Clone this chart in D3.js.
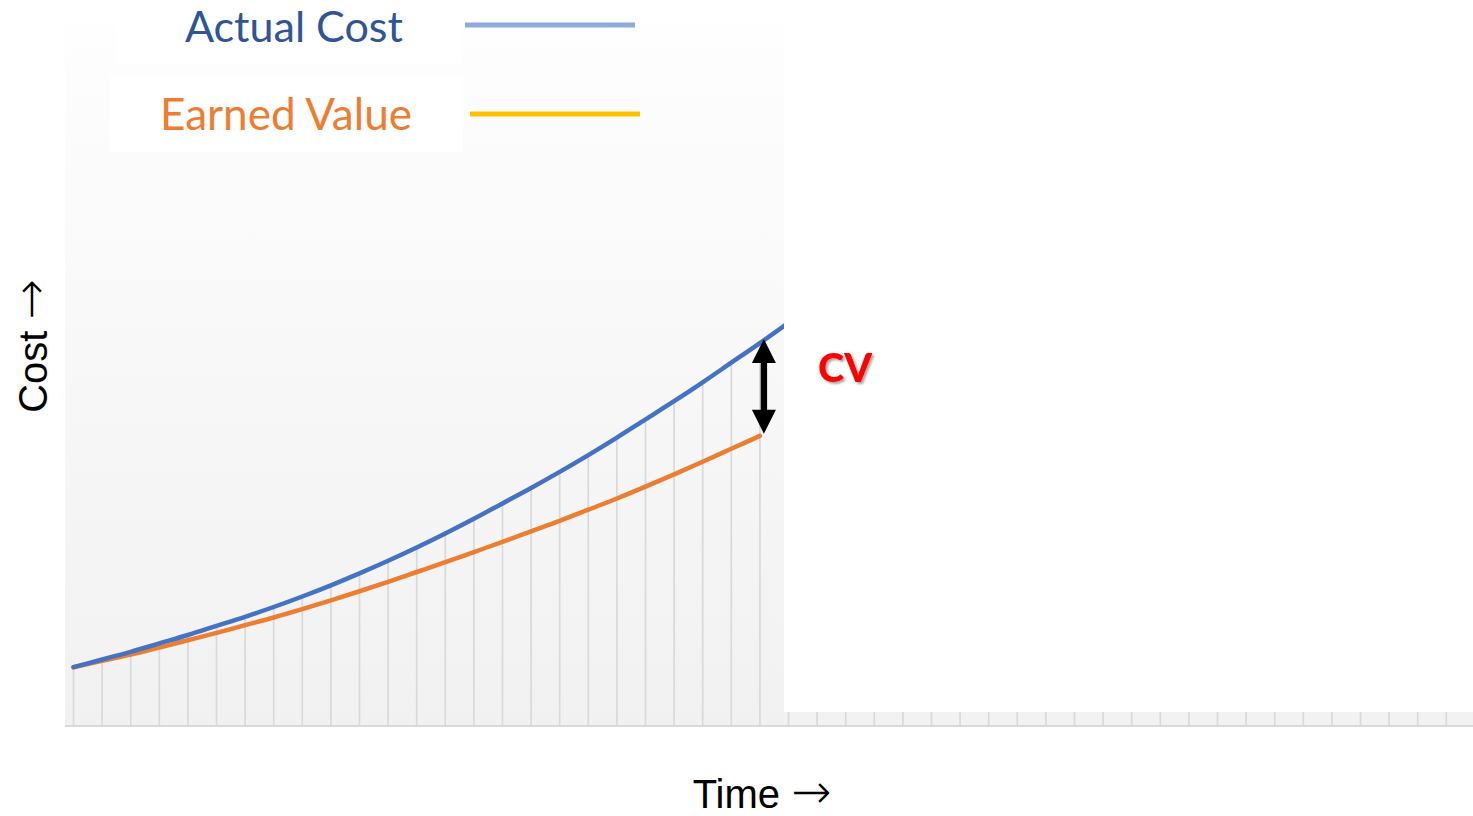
<!DOCTYPE html>
<html>
<head>
<meta charset="utf-8">
<script src="https://cdn.jsdelivr.net/npm/d3@7"></script>
<style>
  html, body { margin: 0; padding: 0; background: #ffffff; }
  svg { display: block; }
</style>
</head>
<body>
<div id="chart"></div>
<script>
// ---------- data ----------
const periods = d3.range(0, 49);               // time periods (grid positions)
const actualCost = [8.4, 9.5, 10.6, 11.8, 13.0, 14.3, 15.6, 17.0, 18.5, 20.1,
                    21.8, 23.6, 25.5, 27.5, 29.6, 31.8, 34.0, 36.3, 38.7, 41.2,
                    43.8, 46.4, 49.1, 51.9, 54.7, 57.6];
const earnedValue = [8.4, 9.3, 10.2, 11.2, 12.25, 13.3, 14.4, 15.5, 16.7, 17.95,
                     19.25, 20.6, 22.0, 23.4, 24.85, 26.3, 27.8, 29.3, 30.9, 32.5,
                     34.2, 35.95, 37.75, 39.6, 41.45];
const seriesNames = ["Actual Cost", "Earned Value"];
const statusPeriod = 24;          // period at which the variance is measured
const panelEndPeriod = 24.84;     // time extent of the shaded panel
const stripValue = 2;             // height of the future-period strip
const xTitle = ["Time ", "\u2192"];
const yTitle = ["Cost ", "\u2192"];
const cvLabel = "CV";

// ---------- layout ----------
const W = 1473, H = 816;
const svg = d3.select("#chart").append("svg").attr("width", W).attr("height", H);

const x = d3.scaleLinear().domain([0, 48]).range([73.5, 73.5 + 48 * 28.6]);
const y = d3.scaleLinear().domain([0, 100]).range([726, 26]);

const defs = svg.append("defs");
const grad = defs.append("linearGradient").attr("id", "bg").attr("x1", 0).attr("y1", 0).attr("x2", 0).attr("y2", 1);
grad.append("stop").attr("offset", "0%").attr("stop-color", "#fefefe");
grad.append("stop").attr("offset", "100%").attr("stop-color", "#f1f1f1");

const panelLeft = 65, panelTop = 23;
const panelRight = x(panelEndPeriod);

defs.append("clipPath").attr("id", "panelClip")
  .append("rect").attr("x", panelLeft).attr("y", 0).attr("width", panelRight - panelLeft).attr("height", y(0));

const shadow = defs.append("filter").attr("id", "shadow").attr("x", "-20%").attr("y", "-20%").attr("width", "150%").attr("height", "150%");
shadow.append("feDropShadow").attr("dx", 2).attr("dy", 2).attr("stdDeviation", 1.2)
  .attr("flood-color", "#000").attr("flood-opacity", 0.35);

// shaded panel
svg.append("rect").attr("x", panelLeft).attr("y", panelTop)
  .attr("width", panelRight - panelLeft).attr("height", y(0) - panelTop)
  .attr("fill", "url(#bg)");

// future strip
svg.append("rect").attr("x", panelRight).attr("y", y(stripValue))
  .attr("width", W - panelRight).attr("height", y(0) - y(stripValue))
  .attr("fill", "#f2f2f2");

// drop lines
const gGrid = svg.append("g").attr("stroke", "#d9d9d9").attr("stroke-width", 1.7);
periods.forEach(p => {
  const top = p < actualCost.length && x(p) <= panelRight ? y(actualCost[p]) : y(stripValue);
  gGrid.append("line").attr("x1", x(p)).attr("x2", x(p)).attr("y1", top).attr("y2", y(0));
});

// baseline
svg.append("line").attr("x1", panelLeft).attr("x2", W).attr("y1", y(0)).attr("y2", y(0))
  .attr("stroke", "#d9d9d9").attr("stroke-width", 2);

// lines
const line = d3.line().x((d, i) => x(i)).y(d => y(d)).curve(d3.curveMonotoneX);
svg.append("path").datum(earnedValue).attr("d", line)
  .attr("fill", "none").attr("stroke", "#ed7d31").attr("stroke-width", 4.5).attr("stroke-linecap", "round");
svg.append("path").datum(actualCost).attr("d", line).attr("clip-path", "url(#panelClip)")
  .attr("fill", "none").attr("stroke", "#4472c4").attr("stroke-width", 4.5).attr("stroke-linecap", "round");

// CV double arrow
const ax = x(statusPeriod) + 4;
const yTop = y(actualCost[statusPeriod]) - 4;
const yBot = y(earnedValue[statusPeriod]) - 2;
const headW = 12, headL = 24, shaftW = 3.2;
const arrowPts = [
  [ax, yTop], [ax + headW, yTop + headL], [ax + shaftW, yTop + headL],
  [ax + shaftW, yBot - headL], [ax + headW, yBot - headL], [ax, yBot],
  [ax - headW, yBot - headL], [ax - shaftW, yBot - headL],
  [ax - shaftW, yTop + headL], [ax - headW, yTop + headL]
];
svg.append("path").attr("d", d3.line()(arrowPts) + "Z").attr("fill", "#000");

// CV label
const cv = svg.append("text").text(cvLabel)
  .attr("x", 845).attr("y", 382)
  .attr("text-anchor", "middle")
  .attr("font-family", "Lato, 'Open Sans', sans-serif").attr("font-weight", 900)
  .attr("font-size", 46).attr("fill", "#ff0000").attr("filter", "url(#shadow)");

// legend boxes
svg.append("rect").attr("x", 116).attr("y", panelTop).attr("width", 346).attr("height", 40).attr("fill", "#ffffff");
svg.append("rect").attr("x", 110).attr("y", 75).attr("width", 353).attr("height", 77).attr("fill", "#ffffff");

const legendFont = "Lato, 'Open Sans', sans-serif";
const t1 = svg.append("text").text(seriesNames[0]).attr("x", 185).attr("y", 42)
  .attr("font-family", legendFont).attr("font-size", 44).attr("fill", "#2f5597");
const t2 = svg.append("text").text(seriesNames[1]).attr("x", 160).attr("y", 130)
  .attr("font-family", legendFont).attr("font-size", 44).attr("fill", "#ed7d31");
// fit legend fonts to the reference text widths
[[t1, 218], [t2, 252]].forEach(([t, w]) => {
  const len = t.node().getComputedTextLength();
  t.attr("font-size", 44 * w / len);
});
{
  const len = cv.node().getComputedTextLength();
  cv.attr("font-size", 46 * 54 / len);
}

svg.append("line").attr("x1", 465).attr("x2", 635).attr("y1", 25).attr("y2", 25)
  .attr("stroke", "#8faadc").attr("stroke-width", 5);
svg.append("line").attr("x1", 470).attr("x2", 640).attr("y1", 114).attr("y2", 114)
  .attr("stroke", "#ffc000").attr("stroke-width", 5);

// axis titles
const titleFont = "'Liberation Sans', Arial, sans-serif";
const xt = svg.append("text").attr("x", 762).attr("y", 808)
  .attr("text-anchor", "middle")
  .attr("font-family", titleFont).attr("font-size", 40).attr("fill", "#000");
xt.append("tspan").text(xTitle[0]);
xt.append("tspan").text(xTitle[1]).attr("font-family", "'DejaVu Sans', sans-serif").attr("font-weight", 200).attr("font-size", 48);

const yt = svg.append("text")
  .attr("transform", "translate(47,346) rotate(-90)")
  .attr("text-anchor", "middle")
  .attr("font-family", titleFont).attr("font-size", 40).attr("fill", "#000");
yt.append("tspan").text(yTitle[0]);
yt.append("tspan").text(yTitle[1]).attr("font-family", "'DejaVu Sans', sans-serif").attr("font-weight", 200).attr("font-size", 48);
</script>
</body>
</html>
